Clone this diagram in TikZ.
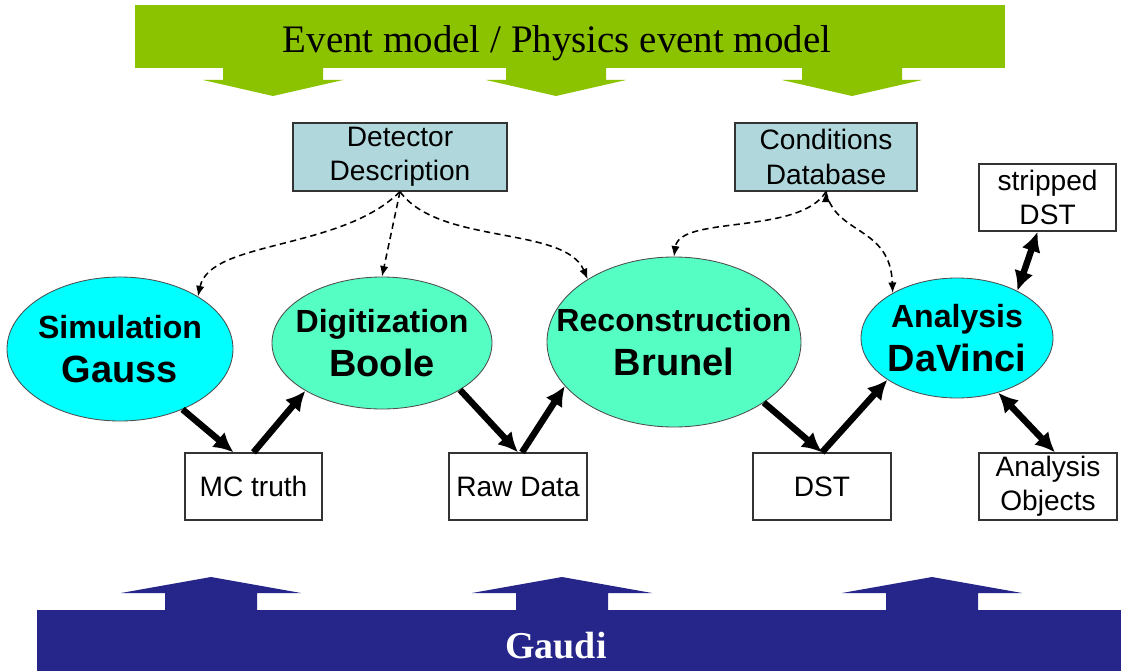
\documentclass[tikz,border=0pt]{standalone}
\usepackage{fontspec}
\setmainfont{Liberation Sans}
\newfontfamily\bannerfont{Liberation Serif}
\usetikzlibrary{shapes.geometric, arrows.meta}
\definecolor{eventgreen}{RGB}{140,195,0}
\definecolor{gaudiblue}{RGB}{37,37,138}
\definecolor{simcyan}{RGB}{0,255,255}
\definecolor{procgreen}{RGB}{85,255,196}
\definecolor{servicegray}{RGB}{176,216,220}
\newcommand{\stagetext}[2]{\makebox[0pt]{\fontsize{22.8}{31}\selectfont #1}\\\makebox[0pt]{#2}}

\begin{document}
\begin{tikzpicture}
    % Setup the styles for the stages and the data
        \tikzset{stage style/.style={ellipse,
                                     draw=black!70,
                                     line width=0.6pt,
                                     inner sep=0pt,
                                     align=center,
                                     font=\bfseries\fontsize{27}{31}\selectfont},
                 data style/.style={rectangle,
                                    draw=black!80,
                                    line width=0.9pt,
                                    fill=white,
                                    inner sep=0pt,
                                    align=center,
                                    minimum width=3.45cm,
                                    minimum height=1.675cm,
                                    font=\fontsize{20}{24.5}\selectfont},
                 service style/.style={data style,
                                       fill=servicegray,
                                       minimum height=1.7cm},
                 flow arrow/.style={line width=4.6pt,
                                    >={Latex[length=14pt,width=14pt]}},
                 dep arrow/.style={line width=1.1pt,
                                   dash pattern=on 4.5pt off 3pt,
                                   ->,
                                   >={Latex[length=7.5pt,width=6pt]}}}
        \useasboundingbox (0,0) rectangle (28.025,-16.775);
        % Event model banner on top
        \fill[eventgreen] (3.375,-0.125) rectangle (25.125,-1.7);
        \fill[eventgreen] (5.575,-1.65) -- ++(0,-0.35) -- ++(-0.5,0) -- ++(1.75,-0.4) -- ++(1.75,0.4) -- ++(-0.5,0) -- ++(0,0.35) -- cycle;
        \fill[eventgreen] (12.65,-1.65) -- ++(0,-0.35) -- ++(-0.5,0) -- ++(1.75,-0.4) -- ++(1.75,0.4) -- ++(-0.5,0) -- ++(0,0.35) -- cycle;
        \fill[eventgreen] (20.05,-1.65) -- ++(0,-0.35) -- ++(-0.5,0) -- ++(1.75,-0.4) -- ++(1.75,0.4) -- ++(-0.5,0) -- ++(0,0.35) -- cycle;
        \node[font=\bannerfont\fontsize{27.7}{30}\selectfont] at (13.925,-1.07) (eventmodel) {Event model / Physics event model};
        % Gaudi band at the bottom
        \fill[gaudiblue] (0.925,-15.25) rectangle (28.025,-16.775);
        \fill[gaudiblue] (4.125,-15.3) -- ++(0,0.475) -- ++(-1.1,0) -- ++(2.25,0.4) -- ++(2.25,-0.4) -- ++(-1.1,0) -- ++(0,-0.475) -- cycle;
        \fill[gaudiblue] (12.9,-15.3) -- ++(0,0.475) -- ++(-1.1,0) -- ++(2.25,0.4) -- ++(2.25,-0.4) -- ++(-1.1,0) -- ++(0,-0.475) -- cycle;
        \fill[gaudiblue] (22.15,-15.3) -- ++(0,0.475) -- ++(-1.1,0) -- ++(2.25,0.4) -- ++(2.25,-0.4) -- ++(-1.1,0) -- ++(0,-0.475) -- cycle;
        \node[font=\bannerfont\bfseries\fontsize{27}{30}\selectfont, text=white] at (13.9,-16.15) (gaudi) {Gaudi};
        % Draw the services
        \node[service style, minimum width=5.35cm] at (10.0,-3.925)  (detdesc) {Detector\\Description};
        \node[service style, minimum width=4.55cm] at (20.65,-3.925) (conddb)  {Conditions\\Database};
        % Draw the stages
        \node[stage style, fill=simcyan, minimum width=5.65cm, minimum height=3.6cm]   at (3.0,-8.725)   (gauss)   {\stagetext{Simulation}{Gauss}};
        \node[stage style, fill=procgreen, minimum width=5.5cm, minimum height=3.3cm]  at (9.55,-8.575)  (boole)   {\stagetext{Digitization}{Boole}};
        \node[stage style, fill=procgreen, minimum width=6.35cm, minimum height=4.25cm] at (16.85,-8.55) (brunel)  {\stagetext{Reconstruction}{Brunel}};
        \node[stage style, fill=simcyan, minimum width=4.8cm, minimum height=3.0cm]    at (23.925,-8.45) (davinci) {\stagetext{Analysis}{DaVinci}};
        % Draw the data
        \node[data style, minimum width=3.425cm] at (6.3375,-12.1625) (mctruth)  {MC truth};
        \node[data style]                        at (12.95,-12.1625)  (rawdata)  {Raw Data};
        \node[data style]                        at (20.55,-12.1625)  (dst)      {DST};
        \node[data style]                        at (26.2,-12.1625)   (anaobj)   {Analysis\\Objects};
        \node[data style, minimum width=3.425cm] at (26.19,-4.94)     (stripped) {stripped\\DST};
        % Connect the stages with the data
        \draw[flow arrow]
            (gauss.-44)                  edge[->]  ([xshift=-5mm]mctruth.north)
            (mctruth.north)              edge[->]  (boole.-148)
            (boole.-31)                  edge[->]  (rawdata.north)
            ([xshift=1mm]rawdata.north)  edge[->]  (brunel.-158)
            (brunel.-34)                 edge[->]  (dst.north)
            (dst.north)                  edge[->]  (davinci.-149)
            (davinci.-53)                edge[<->] ([xshift=1.75mm]anaobj.north)
            (davinci.38)                 edge[<->] ([xshift=-2.5mm]stripped.south);
        % Connect the services with the stages
        \draw[dep arrow]
            (detdesc.south) edge[out=-135, in=78, out looseness=0.94, in looseness=0.65] (gauss.34)
            (detdesc.south) edge                                                        (boole.north)
            (detdesc.south) edge[out=-54, in=113, out looseness=0.82, in looseness=0.72] (brunel.144)
            (conddb.south)  edge[out=-121, in=82, out looseness=0.79, in looseness=0.65] (brunel.north)
            (conddb.south)  edge[out=-78, in=92, out looseness=0.94, in looseness=1.42]  (davinci.145);
\end{tikzpicture}
\end{document}
